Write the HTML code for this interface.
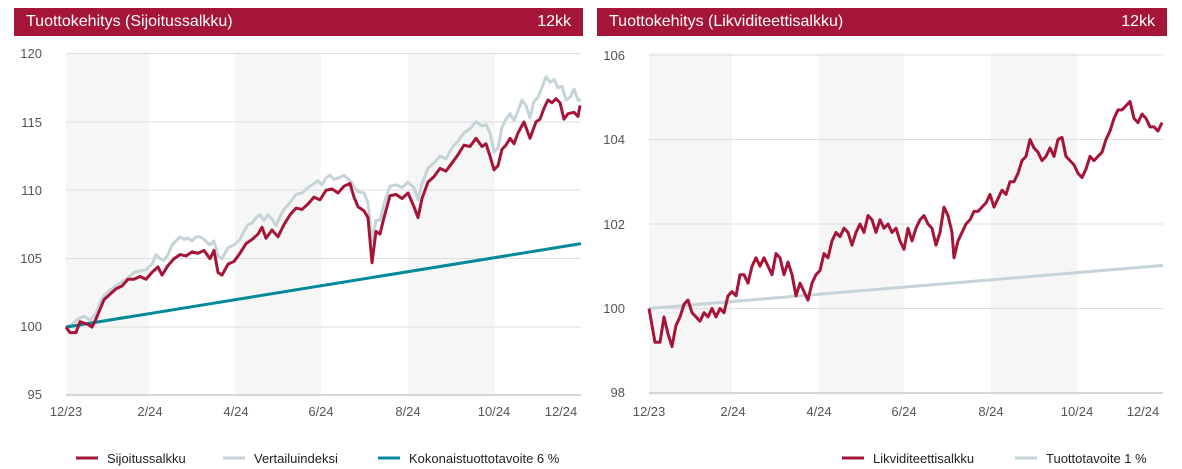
<!DOCTYPE html>
<html><head><meta charset="utf-8"><style>
body{margin:0;background:#fff;width:1182px;height:469px;overflow:hidden;font-family:"Liberation Sans",sans-serif}
.h{position:absolute;top:8px;height:28px;background:#a51538;color:#fff;font-size:16px;line-height:28px}
.h span{position:absolute}
svg{position:absolute;left:0;top:0}
</style></head><body>
<div class="h" style="left:14px;width:569px"><span style="left:12px">Tuottokehitys (Sijoitussalkku)</span><span style="right:12px">12kk</span></div>
<div class="h" style="left:597px;width:570px"><span style="left:12px">Tuottokehitys (Likviditeettisalkku)</span><span style="right:12px">12kk</span></div>
<svg width="1182" height="469" font-family="Liberation Sans, sans-serif" font-size="13" fill="#555">
<g fill="#f6f6f6">
<rect x="66" y="53" width="83" height="342"/><rect x="235" y="53" width="86" height="342"/><rect x="408" y="53" width="87" height="342"/>
<rect x="649" y="53" width="83" height="342"/><rect x="818" y="53" width="86" height="342"/><rect x="991" y="53" width="86" height="342"/>
</g>
<g stroke="#ddd" stroke-width="1">
<line x1="66" x2="581" y1="53.5" y2="53.5"/><line x1="66" x2="581" y1="122" y2="122"/><line x1="66" x2="581" y1="190" y2="190"/><line x1="66" x2="581" y1="258.5" y2="258.5"/><line x1="66" x2="581" y1="327" y2="327"/>
<line x1="649" x2="1163" y1="55" y2="55"/><line x1="649" x2="1163" y1="139.5" y2="139.5"/><line x1="649" x2="1163" y1="224" y2="224"/><line x1="649" x2="1163" y1="308.5" y2="308.5"/>
</g>
<g stroke="#ccc" stroke-width="1.5"><line x1="66" x2="581" y1="395" y2="395"/><line x1="649" x2="1163" y1="393" y2="393"/></g>
<g text-anchor="end"><text x="42" y="58">120</text><text x="42" y="127">115</text><text x="42" y="195">110</text><text x="42" y="263">105</text><text x="42" y="331">100</text><text x="42" y="399">95</text>
<text x="625" y="60">106</text><text x="625" y="144">104</text><text x="625" y="229">102</text><text x="625" y="313">100</text><text x="625" y="397">98</text></g>
<g text-anchor="middle"><text x="66" y="416">12/23</text><text x="150" y="416">2/24</text><text x="236" y="416">4/24</text><text x="321" y="416">6/24</text><text x="408" y="416">8/24</text><text x="494" y="416">10/24</text><text x="561" y="416">12/24</text>
<text x="649" y="416">12/23</text><text x="733" y="416">2/24</text><text x="819" y="416">4/24</text><text x="904" y="416">6/24</text><text x="991" y="416">8/24</text><text x="1077" y="416">10/24</text><text x="1143" y="416">12/24</text></g>
<g fill="none" stroke-linejoin="round" transform="translate(0,53.5) scale(1,-13.68) translate(0,-120)">
<polyline vector-effect="non-scaling-stroke" stroke="#c4d4d8" stroke-width="3" points="66,100 72,100.2 78,100.6 84,100.8 90,100.5 96,101 100,101.8 104,102.3 110,102.7 116,103 122,103.3 128,103.6 134,104 140,104.1 146,104.2 152,104.6 156,105.3 160,105 164,104.9 168,105.3 172,106 176,106.3 180,106.6 184,106.4 188,106.5 192,106.3 196,106.6 200,106.6 204,106.4 210,106 214,106.3 218,105.2 222,105 228,105.8 234,106 240,106.4 244,107 248,107.5 252,107.6 256,108 260,108.2 264,107.8 268,108.2 272,107.9 276,107.4 280,108.1 284,108.6 290,109.1 296,109.7 302,109.8 308,110.2 314,110.5 318,110.7 322,110.4 326,110.9 330,111.1 334,110.8 338,110.9 344,111.1 350,110.7 354,110.3 358,109.9 364,109.8 368,109.1 372,106.3 376,107.8 380,107.8 384,109 390,110.3 396,110.4 402,110.2 408,110.6 414,110.2 418,109.3 422,110.5 428,111.6 434,112 440,112.5 446,112.3 452,113.1 458,113.6 464,114.2 470,114.5 476,115 482,114.7 486,114.8 490,114.2 494,112.8 498,113.1 502,114.6 506,115.2 510,115.6 514,115.1 518,115.8 522,116.6 526,116.2 530,115.3 534,116.5 538,116.8 542,117.5 546,118.3 550,117.9 554,118.1 558,117.5 562,117.6 566,116.6 570,116.8 574,117.4 578,116.6 581,116.6"/>
<polyline vector-effect="non-scaling-stroke" stroke="#00899a" stroke-width="3" points="66,100 581,106.1"/>
<polyline vector-effect="non-scaling-stroke" stroke="#a51538" stroke-width="3" points="66,100 70,99.6 76,99.6 80,100.4 88,100.2 92,100 96,100.6 100,101.3 104,102 110,102.4 116,102.8 122,103 128,103.5 134,103.5 140,103.7 146,103.5 152,104 158,104.4 162,103.8 168,104.5 174,105 180,105.3 186,105.2 192,105.5 198,105.4 204,105.6 210,105 214,105.6 218,104 222,103.8 228,104.6 234,104.8 240,105.4 246,106.1 252,106.4 258,106.8 262,107.3 266,106.5 272,107.1 278,106.6 284,107.5 290,108.2 296,108.7 302,108.6 308,109 314,109.5 320,109.3 326,110 332,110.1 338,109.8 344,110.3 350,110.5 354,109.5 358,108.8 364,108.5 368,108 372,104.7 376,107 380,106.8 384,108 390,109.6 396,109.7 402,109.4 408,109.8 414,108.8 418,108 422,109.4 428,110.6 434,111 440,111.6 446,111.4 452,112 458,112.6 464,113.3 470,113.2 476,113.8 482,113.2 486,113.4 490,112.5 494,111.5 498,111.8 502,113 506,113.3 510,113.8 514,113.4 518,114.2 524,115 530,113.8 536,115 540,115.2 544,116 548,116.6 552,116.4 556,116.7 560,116.4 564,115.2 568,115.6 574,115.7 578,115.4 580,116.2"/>
</g>
<g fill="none" stroke-linejoin="round" transform="translate(0,55) scale(1,-42.25) translate(0,-106)">
<polyline vector-effect="non-scaling-stroke" stroke="#c4d4d8" stroke-width="3" points="649,100 1163,101.02"/>
<polyline vector-effect="non-scaling-stroke" stroke="#a51538" stroke-width="3" points="649,100 652,99.6 655,99.2 660,99.2 664,99.8 668,99.4 672,99.1 676,99.6 680,99.8 684,100.1 688,100.2 692,99.9 696,99.8 700,99.7 704,99.9 708,99.8 712,100 716,99.8 720,100 724,99.9 728,100.3 732,100.4 736,100.3 740,100.8 744,100.8 748,100.6 752,101 756,101.2 760,101 764,101.2 768,101 772,100.8 776,101.3 780,101.2 784,100.8 788,101.1 792,100.8 796,100.3 800,100.6 804,100.4 808,100.2 812,100.6 816,100.8 820,100.9 824,101.3 828,101.2 832,101.6 836,101.8 840,101.7 844,101.9 848,101.8 852,101.5 856,101.8 860,102 864,101.8 868,102.2 872,102.1 876,101.8 880,102.1 884,101.9 888,102 892,101.8 896,101.9 900,101.6 904,101.4 908,101.9 912,101.6 916,101.9 920,102.1 924,102.2 928,102 932,101.9 936,101.5 940,101.8 944,102.4 948,102.2 952,101.8 954,101.2 958,101.6 962,101.8 966,102 970,102.1 974,102.3 978,102.3 982,102.4 986,102.5 990,102.7 994,102.4 998,102.6 1002,102.8 1006,102.7 1010,103 1014,103 1018,103.2 1022,103.5 1026,103.6 1030,104 1034,103.8 1038,103.7 1042,103.5 1046,103.6 1050,103.8 1054,103.6 1058,104 1062,104.05 1066,103.6 1070,103.5 1074,103.4 1078,103.2 1082,103.1 1086,103.3 1090,103.6 1094,103.5 1098,103.6 1102,103.7 1106,104 1110,104.2 1114,104.5 1118,104.7 1122,104.7 1126,104.8 1130,104.9 1134,104.5 1138,104.4 1142,104.6 1146,104.5 1150,104.3 1154,104.3 1158,104.2 1162,104.4"/>
</g>
<g stroke-width="3"><line x1="76" x2="98" y1="458" y2="458" stroke="#a51538"/><line x1="223" x2="245" y1="458" y2="458" stroke="#c4d4d8"/><line x1="378" x2="400" y1="458" y2="458" stroke="#00899a"/>
<line x1="842" x2="864" y1="458" y2="458" stroke="#a51538"/><line x1="1015" x2="1037" y1="458" y2="458" stroke="#c4d4d8"/></g>
<g fill="#222"><text x="107" y="463">Sijoitussalkku</text><text x="254" y="463">Vertailuindeksi</text><text x="409" y="463">Kokonaistuottotavoite 6 %</text>
<text x="873" y="463">Likviditeettisalkku</text><text x="1046" y="463">Tuottotavoite 1 %</text></g>
</svg>
</body></html>
